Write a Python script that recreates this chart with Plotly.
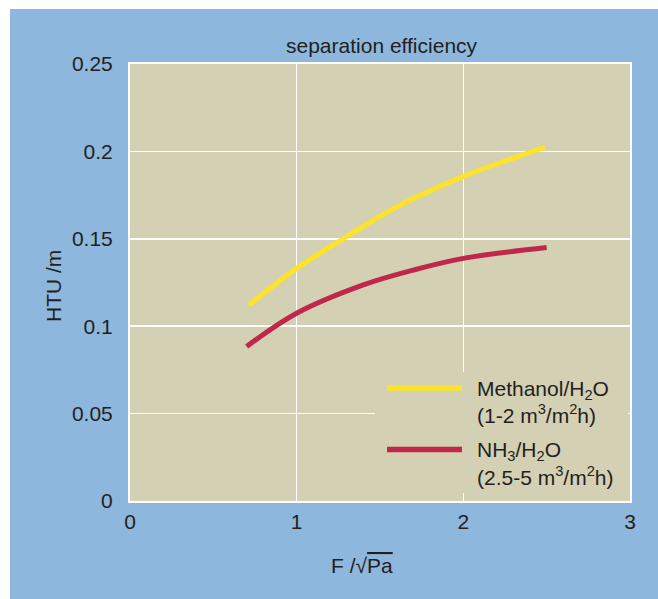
import plotly.graph_objects as go

# Data
methanol_x = [0.714, 1.0, 1.28, 1.6, 2.0, 2.3, 2.49]
methanol_y = [0.1121, 0.1331, 0.150, 0.1682, 0.1857, 0.1962, 0.2025]
nh3_x = [0.70, 1.0, 1.4, 1.7, 2.0, 2.5]
nh3_y = [0.0884, 0.1074, 0.1236, 0.1321, 0.1388, 0.1450]

x_ticks = [0, 1, 2, 3]
x_tick_labels = ["0", "1", "2", "3"]
y_ticks = [0, 0.05, 0.1, 0.15, 0.2, 0.25]
y_tick_labels = ["0", "0.05", "0.1", "0.15", "0.2", "0.25"]

title_text = "separation efficiency"
x_title = "F /√<span style='text-decoration:overline'>Pa</span>"
y_title = "HTU /m"
legend_lines = [
    "Methanol/H<sub>2</sub>O",
    "(1-2 m<sup>3</sup>/m<sup>2</sup>h)",
    "NH<sub>3</sub>/H<sub>2</sub>O",
    "(2.5-5 m<sup>3</sup>/m<sup>2</sup>h)",
]

BLUE = "#8DB7DD"
TAN = "#D4D0B3"
YELLOW = "#FDE32B"
RED = "#C0274A"
TXT = "#231F20"
FONT = "Liberation Sans, Arial, sans-serif"

W, H = 658, 599
L, T = 130, 64
R = W - 630
B = H - 501
PW, PH = W - L - R, H - T - B


def px(xp):
    return (xp - L) / PW


def py(yp):
    return (H - B - yp) / PH


fig = go.Figure()
fig.add_trace(go.Scatter(x=methanol_x, y=methanol_y, mode="lines",
                         line=dict(color=YELLOW, width=5, shape="spline"),
                         showlegend=False, hoverinfo="skip"))
fig.add_trace(go.Scatter(x=nh3_x, y=nh3_y, mode="lines",
                         line=dict(color=RED, width=5, shape="spline"),
                         showlegend=False, hoverinfo="skip"))

shapes = [
    # white outer frame strips (top and left)
    dict(type="rect", xref="paper", yref="paper", x0=px(-5), x1=px(W + 5),
         y0=py(9), y1=py(-5), fillcolor="white", line=dict(width=0), layer="below"),
    dict(type="rect", xref="paper", yref="paper", x0=px(-5), x1=px(10),
         y0=py(H + 5), y1=py(-5), fillcolor="white", line=dict(width=0), layer="below"),
    dict(type="rect", xref="paper", yref="paper", x0=0, x1=1, y0=0, y1=1,
         fillcolor=TAN, line=dict(width=0), layer="below"),
    # legend box
    dict(type="rect", xref="paper", yref="paper", x0=px(375), x1=px(628),
         y0=py(493), y1=py(372), fillcolor=TAN, line=dict(width=0), layer="above"),
    dict(type="line", xref="paper", yref="paper", x0=px(387), x1=px(462),
         y0=py(388), y1=py(388), line=dict(color=YELLOW, width=5.5), layer="above"),
    dict(type="line", xref="paper", yref="paper", x0=px(387), x1=px(462),
         y0=py(449.5), y1=py(449.5), line=dict(color=RED, width=5.5), layer="above"),
]

annotations = [
    dict(text=title_text, xref="paper", yref="paper", x=px(382), y=py(59),
         xanchor="center", yanchor="bottom", showarrow=False,
         font=dict(size=21, color=TXT, family=FONT)),
    dict(text=x_title, xref="paper", yref="paper", x=px(362), y=py(565),
         xanchor="center", yanchor="middle", showarrow=False,
         font=dict(size=21, color=TXT, family=FONT)),
    dict(text=y_title, xref="paper", yref="paper", x=px(53), y=py(286),
         xanchor="center", yanchor="middle", showarrow=False, textangle=-90,
         font=dict(size=21, color=TXT, family=FONT)),
]
for txt, yc in zip(legend_lines, [390, 414, 451, 476]):
    annotations.append(dict(text=txt, xref="paper", yref="paper", x=px(475), y=py(yc),
                            xanchor="left", yanchor="middle", showarrow=False,
                            font=dict(size=21, color=TXT, family=FONT)))

fig.update_layout(
    width=W, height=H,
    margin=dict(l=L, r=R, t=T, b=B, pad=0),
    paper_bgcolor=BLUE,
    plot_bgcolor=TAN,
    font=dict(family=FONT, size=21, color=TXT),
    shapes=shapes,
    annotations=annotations,
    showlegend=False,
)
fig.update_xaxes(range=[0, 3], tickvals=x_ticks, ticktext=x_tick_labels,
                 showgrid=True, gridcolor="white", gridwidth=1.5,
                 zeroline=False, showline=True, mirror=True, linecolor="white",
                 linewidth=2, ticks="", ticklabelstandoff=1,
                 tickfont=dict(size=21, color=TXT, family=FONT))
fig.update_yaxes(range=[0, 0.25], tickvals=y_ticks, ticktext=y_tick_labels,
                 showgrid=True, gridcolor="white", gridwidth=1.5,
                 zeroline=False, showline=True, mirror=True, linecolor="white",
                 linewidth=2, ticks="", ticklabelstandoff=11,
                 tickfont=dict(size=21, color=TXT, family=FONT))

fig.write_html(
    "out.html",
    config={"displayModeBar": False, "staticPlot": True},
    post_script="document.body.style.margin='0';"
                "document.body.style.overflow='hidden';"
                "document.documentElement.style.overflow='hidden';",
)
